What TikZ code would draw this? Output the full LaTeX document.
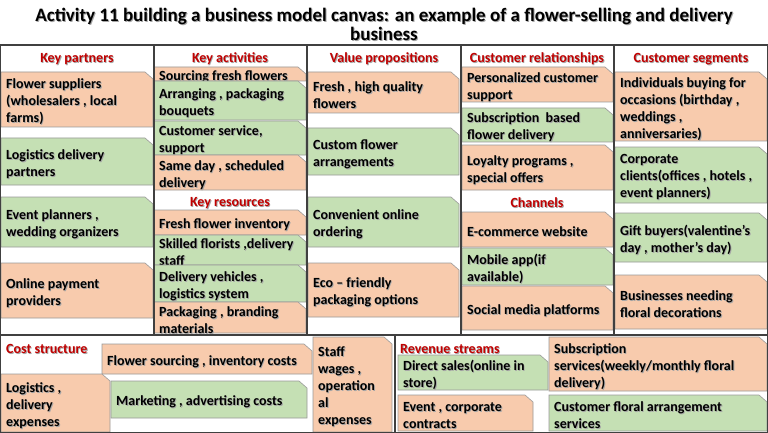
\documentclass[tikz,border=0pt]{standalone}
\usepackage{fontspec}
\setmainfont{Carlito}
\definecolor{peach}{HTML}{F8CBAD}
\definecolor{leaf}{HTML}{C5E0B4}
\definecolor{hdr}{HTML}{C00000}
\definecolor{gridc}{HTML}{404040}
\tikzset{
  boxshape/.style={draw=black!40, line width=0.6pt},
  txt/.style={font=\fontsize{14}{17}\selectfont\bfseries, align=left, inner sep=0pt, text=black},
  shadowtxt/.style={text=black!35},
  hdrtxt/.style={font=\fontsize{14}{16}\selectfont\bfseries, text=hdr, inner sep=0pt},
  titletxt/.style={font=\fontsize{19}{19}\selectfont\bfseries, align=center, inner sep=0pt},
  gridline/.style={draw=gridc, line width=1.4pt},
}
% name, x1, y1, x2, y2, fill, text
\newcommand\cvbox[7]{%
  \path[boxshape, fill=#6] (#2,#3) -- (#4-8,#3) -- (#4,#3+7) -- (#4,#5) -- (#2,#5) -- cycle;
  \node[txt, shadowtxt, anchor=west] (#1sh) at (#2+5.9, {(#3+#5)/2+3.4}) {#7};
  \node[txt, anchor=west] (#1) at (#2+5, {(#3+#5)/2+2.5}) {#7};
}
\newcommand\hdrlabel[5]{% name, anchor, x, y, text
  \node[hdrtxt, shadowtxt, anchor=#2] (#1sh) at (#3+0.9,#4+0.9) {#5};
  \node[hdrtxt, anchor=#2] (#1) at (#3,#4) {#5};
}
\begin{document}
\begin{tikzpicture}[x=1pt, y=-1pt]
\useasboundingbox (0,0) rectangle (768,433);
\fill[white] (0,0) rectangle (768,433);

% title
\node[titletxt, text=black!35] (titlesh) at (385,25) {Activity 11 building a business model canvas: an example of a flower-selling and delivery\\business};
\node[titletxt] (title) at (384,24) {Activity 11 building a business model canvas: an example of a flower-selling and delivery\\business};

% headers
\hdrlabel{hpart}{center}{77}{59}{Key partners}
\hdrlabel{hact}{center}{230}{59}{Key activities}
\hdrlabel{hval}{center}{384}{59}{Value propositions}
\hdrlabel{hrel}{center}{537}{59}{Customer relationships}
\hdrlabel{hseg}{center}{691}{59}{Customer segments}
\hdrlabel{hres}{center}{230}{203}{Key resources}
\hdrlabel{hchan}{center}{537}{203}{Channels}
\hdrlabel{hcost}{west}{6}{349}{Cost structure}
\hdrlabel{hrev}{west}{400}{349}{Revenue streams}

% key partners
\cvbox{p1}{1}{72}{153}{127}{peach}{Flower suppliers\\(wholesalers , local\\farms)}
\cvbox{p2}{1}{138}{153}{185}{leaf}{Logistics delivery\\partners}
\cvbox{p3}{1}{197}{153}{247}{leaf}{Event planners ,\\wedding organizers}
\cvbox{p4}{1}{263}{153}{318}{peach}{Online payment\\providers}

% key activities
\cvbox{a1}{154}{67}{306}{81}{peach}{Sourcing fresh flowers}
\cvbox{a2}{154}{81}{306}{120}{leaf}{Arranging , packaging\\bouquets}
\cvbox{a3}{154}{121}{306}{155}{leaf}{Customer service,\\support}
\cvbox{a4}{154}{155}{306}{190}{peach}{Same day , scheduled\\delivery}

% key resources
\cvbox{r1}{154}{210}{306}{235}{peach}{Fresh flower inventory}
\cvbox{r2}{154}{235}{306}{265}{leaf}{Skilled florists ,delivery\\staff}
\cvbox{r3}{154}{265}{306}{302}{leaf}{Delivery vehicles ,\\logistics system}
\cvbox{r4}{154}{302}{306}{333}{peach}{Packaging , branding\\materials}

% value propositions
\cvbox{v1}{308}{72}{459}{113}{peach}{Fresh , high quality\\flowers}
\cvbox{v2}{308}{128}{459}{175}{leaf}{Custom flower\\arrangements}
\cvbox{v3}{308}{197}{459}{247}{leaf}{Convenient online\\ordering}
\cvbox{v4}{308}{263}{459}{317}{peach}{Eco – friendly\\packaging options}

% customer relationships
\cvbox{c1}{462}{67}{613}{102}{peach}{Personalized customer\\support}
\cvbox{c2}{462}{108}{613}{142}{leaf}{Subscription~ based\\flower delivery}
\cvbox{c3}{462}{145}{613}{190}{peach}{Loyalty programs ,\\special offers}

% channels
\cvbox{h1}{462}{212}{613}{247}{peach}{E-commerce website}
\cvbox{h2}{462}{248}{613}{285}{leaf}{Mobile app(if\\available)}
\cvbox{h3}{462}{286}{613}{330}{peach}{Social media platforms}

% customer segments
\cvbox{s1}{615}{72}{767}{141}{peach}{Individuals buying for\\occasions (birthday ,\\weddings ,\\anniversaries)}
\cvbox{s2}{615}{147}{767}{203}{leaf}{Corporate\\clients(offices , hotels ,\\event planners)}
\cvbox{s3}{615}{213}{767}{262}{leaf}{Gift buyers(valentine’s\\day , mother’s day)}
\cvbox{s4}{615}{275}{767}{329}{peach}{Businesses needing\\floral decorations}

% cost structure
\cvbox{k1}{102}{344}{312}{374}{peach}{Flower sourcing , inventory costs}
\cvbox{k2}{1}{374}{110}{432}{peach}{Logistics ,\\delivery\\expenses}
\cvbox{k3}{111}{381}{307}{418}{leaf}{Marketing , advertising costs}
\cvbox{k4}{313}{337}{392}{432}{peach}{Staff\\wages ,\\operation\\al\\expenses}

% revenue streams
\cvbox{rv1}{398}{355}{548}{390}{leaf}{Direct sales(online in\\store)}
\cvbox{rv2}{549}{337}{767}{391}{peach}{Subscription\\services(weekly/monthly floral\\delivery)}
\cvbox{rv3}{398}{395}{533}{431}{peach}{Event , corporate\\contracts}
\cvbox{rv4}{549}{395}{767}{431}{leaf}{Customer floral arrangement\\services}

% grid
\draw[gridline] (0.7,45) rectangle (767.3,432.3);
\draw[gridline] (154,45) -- (154,335);
\draw[gridline] (307,45) -- (307,335);
\draw[gridline] (461,45) -- (461,335);
\draw[gridline] (614,45) -- (614,335);
\draw[gridline] (0,335) -- (768,335);
\draw[gridline] (395,335) -- (395,432);
\end{tikzpicture}
\end{document}
